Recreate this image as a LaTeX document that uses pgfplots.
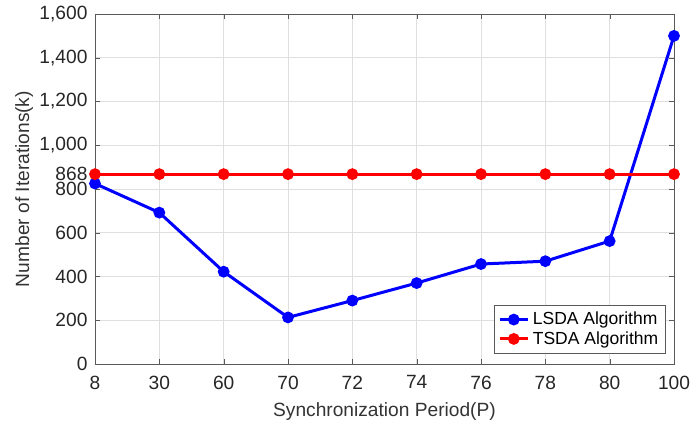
\documentclass[border=0pt]{standalone}
\usepackage{fontspec}
\setmainfont{Liberation Sans}
\usepackage{pgfplots}
\pgfplotsset{compat=1.18}

\begin{document}
\begin{tikzpicture}
\begin{axis}[
    scale only axis,
    width=347.4pt,
    height=210pt,
    xmin=0, xmax=9,
    ymin=0, ymax=1600,
    xtick={0,...,9},
    xticklabels={8,30,60,70,72,74,76,78,80,100},
    ytick={0,200,400,600,800,868,1000,1200,1400,1600},
    yticklabels={0,200,400,600,800,868,{1,000},{1,200},{1,400},{1,600}},
    tick label style={font=\fontsize{11.5}{12}\selectfont},
    /pgf/number format/assume math mode=true,
    xlabel={Synchronization Period(P)},
    ylabel={Number of Iterations(k)},
    label style={font=\fontsize{11.5}{12}\selectfont, text=black!80},
    ylabel style={yshift=-3pt},
    xlabel style={yshift=-1pt},
    xticklabel style={yshift=-3.5pt},
    yticklabel style={xshift=-1pt},
    grid=major,
    grid style={gray!25, line width=0.4pt},
    axis line style={gray!70!black},
    tick style={gray!70!black},
    tick align=inside,
    major tick length=3pt,
    ticklabel style={text=black!85},
    legend style={
        at={(0.985,0.03)},
        anchor=south east,
        draw=gray!70!black,
        fill=white,
        font=\fontsize{10.5}{12}\selectfont,
        row sep=-1.5pt,
        inner sep=2pt
    },
    legend cell align=left,
]
\addplot[blue, line width=1.8pt, mark=*, mark size=2.6pt]
coordinates {
    (0,825) (1,692) (2,422) (3,213) (4,290)
    (5,370) (6,457) (7,470) (8,562) (9,1500)
};
\addlegendentry{LSDA Algorithm}

\addplot[red, line width=1.8pt, mark=*, mark size=2.6pt]
coordinates {
    (0,868) (1,868) (2,868) (3,868) (4,868)
    (5,868) (6,868) (7,868) (8,868) (9,868)
};
\addlegendentry{TSDA Algorithm}
\end{axis}
\pgfresetboundingbox
\path ([xshift=-57pt,yshift=-33.6pt]current axis.south west)
  rectangle ([xshift=12pt,yshift=8.4pt]current axis.north east);
\end{tikzpicture}
\end{document}
